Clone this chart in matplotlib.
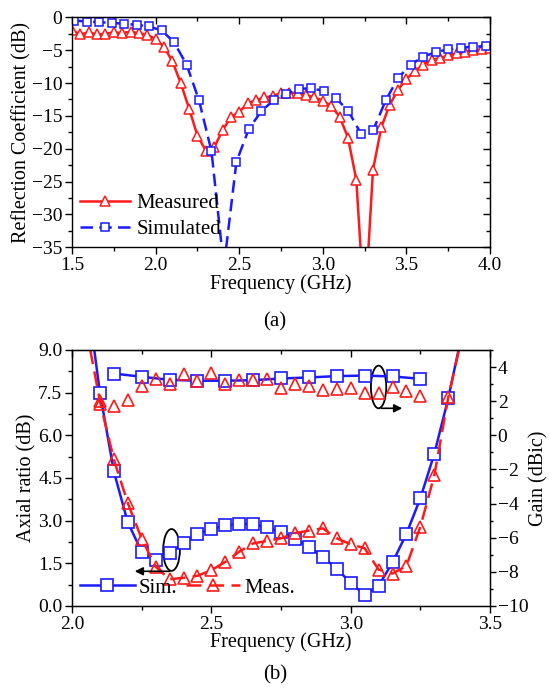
import matplotlib
matplotlib.use('Agg')
import matplotlib.pyplot as plt
from matplotlib.patches import Ellipse
from matplotlib.ticker import MultipleLocator

plt.rcParams['font.family'] = ['Liberation Serif', 'DejaVu Serif']
plt.rcParams['font.size'] = 14
plt.rcParams['axes.labelsize'] = 14.5

RED = '#ff1a1a'
BLUE = '#1a1aff'

# (a) reflection coefficient
f_meas = [1.50, 1.55, 1.60, 1.65, 1.70, 1.75, 1.80, 1.85, 1.90, 1.95,
          2.00, 2.05, 2.10, 2.15, 2.20, 2.25, 2.30, 2.35, 2.40, 2.45,
          2.50, 2.55, 2.60, 2.65, 2.70, 2.75, 2.80, 2.85, 2.90, 2.95,
          3.00, 3.05, 3.10, 3.15, 3.20, 3.25, 3.30, 3.35, 3.40, 3.45,
          3.50, 3.55, 3.60, 3.65, 3.70, 3.75, 3.80, 3.85, 3.90, 3.95, 4.00]
s11_meas = [-2.0, -2.6, -2.3, -2.6, -2.5, -2.3, -2.4, -2.2, -2.4, -2.7,
            -3.3, -4.5, -6.7, -10.0, -13.9, -18.0, -20.3, -19.8, -17.2, -15.2,
            -14.4, -13.1, -12.6, -12.2, -12.0, -11.5, -11.5, -11.5, -11.8, -12.2,
            -12.7, -13.5, -15.1, -18.3, -24.7, -45.0, -23.2, -16.7, -13.3, -11.0,
            -9.4, -8.2, -7.2, -6.5, -6.2, -5.8, -5.5, -5.3, -5.0, -4.9, -4.7]

f_sim = [1.514, 1.589, 1.663, 1.738, 1.812, 1.887, 1.961, 2.036, 2.110, 2.185,
         2.259, 2.334, 2.408, 2.483, 2.557, 2.632, 2.706, 2.781, 2.855, 2.930,
         3.004, 3.079, 3.153, 3.228, 3.302, 3.377, 3.451, 3.526, 3.600, 3.675,
         3.749, 3.824, 3.898, 3.973]
s11_sim = [-0.5, -0.65, -0.75, -0.85, -1.0, -1.15, -1.4, -2.0, -3.8, -7.2,
           -12.6, -20.4, -38.0, -22.0, -17.0, -14.3, -12.6, -11.7, -10.9, -10.8,
           -11.2, -12.3, -14.3, -17.7, -17.1, -12.6, -9.2, -7.2, -6.0, -5.3,
           -4.9, -4.6, -4.5, -4.4]

# (b) axial ratio and gain
f_ar = [2.05, 2.10, 2.15, 2.20, 2.25, 2.30, 2.35, 2.40, 2.45, 2.50,
        2.55, 2.60, 2.65, 2.70, 2.75, 2.80, 2.85, 2.90, 2.95, 3.00,
        3.05, 3.10, 3.15, 3.20, 3.25, 3.30, 3.35, 3.40]
ar_sim = [11.2, 7.50, 4.73, 2.94, 1.91, 1.61, 1.87, 2.20, 2.52, 2.71,
          2.83, 2.89, 2.87, 2.76, 2.59, 2.36, 2.08, 1.73, 1.30, 0.82,
          0.38, 0.71, 1.53, 2.54, 3.79, 5.35, 7.30, 9.6]
ar_meas = [9.8, 7.20, 5.15, 3.62, 2.36, 1.38, 0.94, 0.99, 1.06, 1.26,
           1.55, 1.91, 2.20, 2.29, 2.38, 2.56, 2.65, 2.73, 2.38, 2.17,
           2.03, 1.28, 1.14, 1.41, 2.79, 4.59, 7.33, 9.5]

f_gain_sim = [2.15, 2.25, 2.35, 2.45, 2.55, 2.65, 2.75, 2.85, 2.95, 3.05, 3.15, 3.25]
gain_sim = [3.62, 3.43, 3.25, 3.20, 3.20, 3.23, 3.33, 3.39, 3.47, 3.50, 3.45, 3.31]
f_gain_meas = [2.10, 2.15, 2.20, 2.25, 2.30, 2.35, 2.40, 2.45, 2.50, 2.55, 2.60, 2.65,
               2.70, 2.75, 2.80, 2.85, 2.90, 2.95, 3.00, 3.05, 3.10, 3.15, 3.20, 3.25]
gain_meas = [1.86, 1.72, 2.05, 2.90, 3.29, 3.00, 3.59, 3.20, 3.65, 3.00, 3.23, 3.23,
             3.29, 2.80, 3.00, 2.90, 2.65, 2.70, 2.80, 2.50, 2.50, 2.84, 2.57, 2.31]

fig = plt.figure(figsize=(5.5, 6.88), dpi=100)
ax1 = fig.add_axes([0.131, 0.6405, 0.76, 0.3344])
ax2 = fig.add_axes([0.131, 0.1192, 0.76, 0.3721])


def style_axis(ax, xmaj, xmin, ymaj, ymin, right_mirror=True):
    ax.xaxis.set_major_locator(MultipleLocator(xmaj))
    ax.xaxis.set_minor_locator(MultipleLocator(xmin))
    ax.yaxis.set_major_locator(MultipleLocator(ymaj))
    ax.yaxis.set_minor_locator(MultipleLocator(ymin))
    ax.tick_params(which='major', direction='out', length=5, width=1, pad=2)
    ax.tick_params(which='minor', direction='out', length=3, width=1)
    for sp in ax.spines.values():
        sp.set_linewidth(1.0)
    top = ax.secondary_xaxis('top')
    top.xaxis.set_major_locator(MultipleLocator(xmaj))
    top.xaxis.set_minor_locator(MultipleLocator(xmin))
    top.tick_params(which='major', direction='in', length=5, width=1, labeltop=False)
    top.tick_params(which='minor', direction='in', length=3, width=1)
    if right_mirror:
        right = ax.secondary_yaxis('right')
        right.yaxis.set_major_locator(MultipleLocator(ymaj))
        right.yaxis.set_minor_locator(MultipleLocator(ymin))
        right.tick_params(which='major', direction='in', length=5, width=1, labelright=False)
        right.tick_params(which='minor', direction='in', length=3, width=1)


# ---- (a)
ax1.plot(f_meas, s11_meas, color=RED, lw=1.8, marker='^', ms=6.5,
         mfc='white', mec=RED, mew=1.1, label='Measured')
ax1.plot(f_sim, s11_sim, color=BLUE, lw=1.8, ls=(0, (5, 2.5)), marker='s', ms=5.5,
         mfc='white', mec=BLUE, mew=1.1, label='Simulated')
ax1.set_xlim(1.5, 4.0)
ax1.set_ylim(-35, 0)
style_axis(ax1, 0.5, 0.25, 5, 2.5)
ax1.set_xticks([1.5, 2.0, 2.5, 3.0, 3.5, 4.0])
ax1.set_xticklabels(['1.5', '2.0', '2.5', '3.0', '3.5', '4.0'])
ax1.set_xlabel('Frequency (GHz)', labelpad=0)
ax1.set_ylabel('Reflection Coefficient (dB)', labelpad=0)
ax1.legend(loc='lower left', frameon=False, handlelength=2.4, handletextpad=0.3,
           borderaxespad=0.0, labelspacing=0.3, fontsize=15)
fig.text(0.5, 0.532, '(a)', ha='center', va='center', fontsize=15)

# ---- (b)
ax2.plot(f_ar, ar_sim, color=BLUE, lw=1.8, marker='s', ms=8,
         mfc='white', mec=BLUE, mew=1.2, label='Sim.')
ax2.plot(f_ar, ar_meas, color=RED, lw=1.8, ls=(0, (6, 3)), marker='^', ms=9,
         mfc='none', mec=RED, mew=1.2, label='Meas.')
ax2.set_xlim(2.0, 3.5)
ax2.set_ylim(0, 9)
style_axis(ax2, 0.5, 0.25, 1.5, 0.75, right_mirror=False)
ax2.set_xticks([2.0, 2.5, 3.0, 3.5])
ax2.set_xticklabels(['2.0', '2.5', '3.0', '3.5'])
ax2.set_yticks([0, 1.5, 3.0, 4.5, 6.0, 7.5, 9.0])
ax2.set_yticklabels(['0.0', '1.5', '3.0', '4.5', '6.0', '7.5', '9.0'])
ax2.set_xlabel('Frequency (GHz)', labelpad=0)
ax2.set_ylabel('Axial ratio (dB)', labelpad=1)
ax2.legend(loc='lower left', ncol=2, frameon=False, handlelength=2.6, handletextpad=0.2,
           columnspacing=0.4, borderaxespad=0.0, fontsize=15)

ax3 = ax2.twinx()
ax3.set_position(ax2.get_position())
ax3.plot(f_gain_sim, gain_sim, color=BLUE, lw=1.8, marker='s', ms=8,
         mfc='white', mec=BLUE, mew=1.2)
ax3.plot(f_gain_meas, gain_meas, ls='none', marker='^', ms=9,
         mfc='none', mec=RED, mew=1.2)
ax3.set_ylim(-10, 5)
ax3.yaxis.set_major_locator(MultipleLocator(2))
ax3.yaxis.set_minor_locator(MultipleLocator(1))
ax3.set_yticks([-10, -8, -6, -4, -2, 0, 2, 4])
ax3.tick_params(which='major', direction='out', length=4, width=1, pad=1.5)
ax3.tick_params(which='minor', direction='out', length=2.5, width=1)
ax3.set_ylabel('Gain (dBic)', labelpad=1)

# ellipses and arrows
ax2.add_patch(Ellipse((3.10, 7.7), 0.055, 1.5, fill=False, ec='black', lw=1.3))
ax2.annotate('', xy=(3.185, 6.95), xytext=(3.11, 6.95),
             arrowprops=dict(arrowstyle='-|>', color='black', lw=1.2,
                             mutation_scale=12, shrinkA=0, shrinkB=0))
ax2.add_patch(Ellipse((2.357, 1.97), 0.06, 1.47, fill=False, ec='black', lw=1.3))
ax2.annotate('', xy=(2.225, 1.22), xytext=(2.35, 1.22),
             arrowprops=dict(arrowstyle='-|>', color='black', lw=1.2,
                             mutation_scale=12, shrinkA=0, shrinkB=0))

fig.text(0.5, 0.019, '(b)', ha='center', va='center', fontsize=15)

fig.savefig('out.png', dpi=100)
